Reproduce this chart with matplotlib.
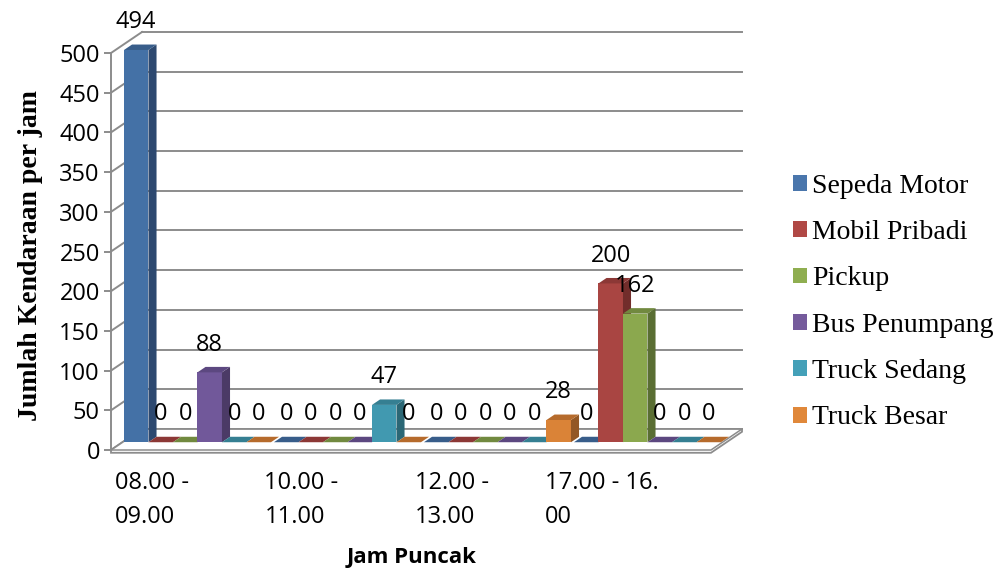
import matplotlib.pyplot as plt
from matplotlib.patches import Polygon, Patch

# jumlah kendaraan per jam puncak
categories = ['08.00 -\n09.00', '10.00 -\n11.00', '12.00 -\n13.00', '17.00 - 16.\n00']
series = ['Sepeda Motor', 'Mobil Pribadi', 'Pickup', 'Bus Penumpang', 'Truck Sedang', 'Truck Besar']
values = {
    'Sepeda Motor': [494, 0, 0, 0],
    'Mobil Pribadi': [0, 0, 0, 200],
    'Pickup': [0, 0, 0, 162],
    'Bus Penumpang': [88, 0, 0, 0],
    'Truck Sedang': [0, 47, 0, 0],
    'Truck Besar': [0, 0, 28, 0],
}
y_ticks = list(range(0, 501, 50))

# front / side / top shades for each series
front = ['#4471a6', '#a94542', '#8ba84e', '#71589a', '#4199b0', '#da8337']
side = ['#2d4970', '#722d2b', '#5a6e33', '#4b3a66', '#2b6775', '#935724']
top = ['#385d8a', '#8c3836', '#71893f', '#5c4880', '#357f92', '#b66b2c']
legend_col = ['#4a76ac', '#b04845', '#8fae50', '#755b9c', '#44a0b8', '#e0883a']

fig = plt.figure(figsize=(10.01, 5.70), dpi=100)
ax = fig.add_axes([0, 0, 1, 1])
ax.set_xlim(-0.74, 5.9333)
ax.set_ylim(-151.13, 566.75)

# oblique depth of the chart box (data units)
dx, dy = 0.2067, 26.45
grid = '#8c8c8c'

# back wall and side wall gridlines
for v in y_ticks:
    ax.plot([dx, 4 + dx], [v + dy, v + dy], color=grid, lw=1.4, zorder=1)
    ax.plot([0, dx], [v, v + dy], color=grid, lw=1.4, zorder=1)

# floor slab
t = 3.5
ax.add_patch(Polygon([(0, -t), (4, -t), (4 + dx, dy - t), (4 + dx, dy), (dx, dy), (0, 0)],
                     closed=True, facecolor='white', edgecolor=grid, lw=1.3, zorder=2))
ax.plot([0, 4, 4 + dx], [0, 0, dy], color=grid, lw=1.1, zorder=2)

# bars
f0, bd = 0.37, 0.26
w = 0.98 / 6
labels = []
for i in range(len(categories)):
    for j, name in enumerate(series):
        v = values[name][i]
        xl = i + 0.01 + w * j + f0 * dx
        xr = xl + w
        b = f0 * dy
        ox, oy = bd * dx, bd * dy
        ax.bar(xl, v, width=w, bottom=b, align='edge', color=front[j], lw=0, zorder=3)
        ax.add_patch(Polygon([(xr, b), (xr + ox, b + oy), (xr + ox, b + v + oy), (xr, b + v)],
                             closed=True, facecolor=side[j], lw=0, zorder=3))
        ax.add_patch(Polygon([(xl, b + v), (xr, b + v), (xr + ox, b + v + oy), (xl + ox, b + v + oy)],
                             closed=True, facecolor=top[j], lw=0, zorder=3))
        labels.append((xl + w / 2, b + v + 35, v))

for x, y, v in labels:
    ax.text(x, y, str(v), ha='center', va='center', fontsize=17,
            family='Open Sans', color='black', zorder=5)

# category labels
for i, c in enumerate(categories):
    ax.text(i + 0.27, -63, c, ha='center', va='center', multialignment='left',
            fontsize=17, family='Open Sans', linespacing=1.55)

# y axis
for s in ['top', 'right', 'bottom']:
    ax.spines[s].set_visible(False)
ax.spines['left'].set_position(('data', 0))
ax.spines['left'].set_bounds(0, 500)
ax.spines['left'].set_color(grid)
ax.spines['left'].set_linewidth(1.4)
ax.set_xticks([])
ax.set_yticks(y_ticks)
ax.tick_params(axis='y', direction='out', length=5, width=1.4, color=grid, pad=3,
               labelsize=17)
for lab in ax.get_yticklabels():
    lab.set_family('Open Sans')

fig.text(31 / 1001, 1 - 255 / 570, 'Jumlah Kendaraan per jam', rotation=90,
         ha='center', va='center', fontsize=20, fontweight='bold', family='Liberation Serif')
fig.text(412 / 1001, 1 - 557 / 570, 'Jam Puncak', ha='center', va='center',
         fontsize=16, fontweight='bold', family='Open Sans')

handles = [Patch(facecolor=c, edgecolor='none') for c in legend_col]
ax.legend(handles, series, loc='center left', bbox_to_anchor=(793 / 1001, 1 - 302 / 570),
          bbox_transform=fig.transFigure, frameon=False, borderpad=0, borderaxespad=0,
          handlelength=0.5, handleheight=0.5, handletextpad=0.18, labelspacing=0.77,
          prop={'family': 'Liberation Serif', 'size': 20})

fig.savefig('out.png', dpi=100)
